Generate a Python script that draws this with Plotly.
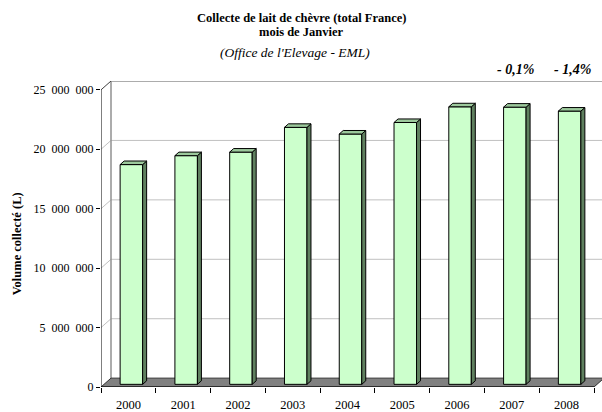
import plotly.graph_objects as go

# Collecte de lait de chèvre, mois de janvier (litres)
years = ["2000", "2001", "2002", "2003", "2004", "2005", "2006", "2007", "2008"]
volumes = [18_490_000, 19_240_000, 19_540_000, 21_620_000, 21_060_000,
           22_030_000, 23_350_000, 23_320_000, 22_990_000]
y_tick_vals = [0, 5_000_000, 10_000_000, 15_000_000, 20_000_000, 25_000_000]
FS = "\u2007"
y_tick_text = ["0", f"5{FS}000{FS}000", f"10{FS}000{FS}000", f"15{FS}000{FS}000",
               f"20{FS}000{FS}000", f"25{FS}000{FS}000"]

title_lines = ["Collecte de lait de chèvre (total France)", "mois de Janvier"]
subtitle = "(Office de l'Elevage - EML)"
y_title = "Volume collecté (L)"

# ---- figure geometry (pixels) ----
W, H = 602, 412
ML, MR, MT, MB = 101, 0, 81, 20
PW, PH = W - ML - MR, H - MT - MB
CAT_PX = 493 / len(years)              # front floor width per category
Y_PX = 302 / 25_000_000                 # pixels per litre on the front plane
X_MIN = -0.5
X_MAX = X_MIN + PW / CAT_PX
Y_MAX = PH / Y_PX
DX = 10 / CAT_PX                        # depth offset, x units
DY = 9 / Y_PX                           # depth offset, y units
D0, D1 = 0.3, 0.7                       # bar depth span (fraction of floor depth)
BAR_W = 22.5 / CAT_PX

FONT = "Liberation Serif, Times New Roman, serif"


def px_x(px):
    return (px - ML) / PW


def px_y(py):
    return (H - MB - py) / PH


fig = go.Figure()

# front faces
bar_x = [i + D0 * DX for i in range(len(years))]
fig.add_trace(go.Bar(
    x=bar_x, y=volumes, base=D0 * DY, width=BAR_W,
    marker=dict(color="#ccffcc", line=dict(color="black", width=1)),
    hoverinfo="skip", showlegend=False,
))

# side and top faces
w = (D1 - D0) * DX
h = (D1 - D0) * DY
side_x, side_y, top_x, top_y = [], [], [], []
for xc, v in zip(bar_x, volumes):
    xl, xr = xc - BAR_W / 2, xc + BAR_W / 2
    b, t = D0 * DY, D0 * DY + v
    side_x += [xr, xr, xr + w, xr + w, xr, None]
    side_y += [b, t, t + h, b + h, b, None]
    top_x += [xl, xr, xr + w, xl + w, xl, None]
    top_y += [t, t, t + h, t + h, t, None]
fig.add_trace(go.Scatter(x=side_x, y=side_y, mode="lines", fill="toself",
                         fillcolor="#5f805f", line=dict(color="black", width=1),
                         hoverinfo="skip", showlegend=False))
fig.add_trace(go.Scatter(x=top_x, y=top_y, mode="lines", fill="toself",
                         fillcolor="#9cc99c", line=dict(color="black", width=1),
                         hoverinfo="skip", showlegend=False))

# walls, gridlines and floor
n = len(years)
x_back = X_MIN + DX
shapes = []
for v in y_tick_vals[1:-1]:
    shapes.append(dict(type="line", xref="x", yref="y", x0=x_back, x1=X_MAX,
                       y0=v + DY, y1=v + DY, line=dict(color="#c0c0c0", width=1),
                       layer="below"))
for v in y_tick_vals[1:-1]:
    shapes.append(dict(type="line", xref="x", yref="y", x0=X_MIN, x1=x_back,
                       y0=v, y1=v + DY, line=dict(color="#c0c0c0", width=1),
                       layer="below"))
top = y_tick_vals[-1]
shapes += [
    dict(type="line", xref="x", yref="y", x0=x_back, x1=X_MAX, y0=top + DY, y1=top + DY,
         line=dict(color="#909090", width=1.5), layer="below"),
    dict(type="line", xref="x", yref="y", x0=x_back, x1=x_back, y0=DY, y1=top + DY,
         line=dict(color="#909090", width=1.5), layer="below"),
    dict(type="line", xref="x", yref="y", x0=X_MIN, x1=x_back, y0=top, y1=top + DY,
         line=dict(color="#404040", width=1), layer="below"),
    dict(type="path", xref="x", yref="y",
         path=f"M{X_MIN},0 L{n - 0.5},0 L{n - 0.5 + DX},{DY} L{x_back},{DY} Z",
         fillcolor="#808080", line=dict(color="#303030", width=1), layer="below"),
    # front axis lines
    dict(type="line", xref="x", yref="y", x0=X_MIN, x1=X_MIN, y0=0, y1=top,
         line=dict(color="black", width=1)),
    dict(type="line", xref="x", yref="y", x0=X_MIN, x1=n - 0.5, y0=0, y1=0,
         line=dict(color="black", width=1)),
]

# year-over-year change above the last two bars
pct = []
for k in (n - 2, n - 1):
    ch = (volumes[k] - volumes[k - 1]) / volumes[k - 1] * 100
    s = f"{ch:.1f}".replace(".", ",")
    pct.append(("- " + s.lstrip("-") if ch < 0 else "+ " + s) + "%")

annotations = [
    dict(text=f"<b>{title_lines[0]}</b>", x=px_x(301), y=px_y(17), font=dict(size=12.5)),
    dict(text=f"<b>{title_lines[1]}</b>", x=px_x(301), y=px_y(31), font=dict(size=12.5)),
    dict(text=f"<i>{subtitle}</i>", x=px_x(295), y=px_y(52), font=dict(size=13.5)),
    dict(text=f"<b><i>{pct[0]}</i></b>", x=px_x(515), y=px_y(69), font=dict(size=14)),
    dict(text=f"<b><i>{pct[1]}</i></b>", x=px_x(572), y=px_y(69), font=dict(size=14)),
    dict(text=f"<b>{y_title}</b>", x=px_x(17), y=px_y(247), textangle=-90,
         font=dict(size=12.5)),
]
for a in annotations:
    a.update(xref="paper", yref="paper", showarrow=False, xanchor="center", yanchor="middle")
    a["font"].update(family=FONT, color="black")

fig.update_layout(
    width=W, height=H,
    margin=dict(l=ML, r=MR, t=MT, b=MB, pad=0),
    paper_bgcolor="white", plot_bgcolor="white",
    font=dict(family=FONT, color="black", size=12),
    showlegend=False,
    shapes=shapes,
    annotations=annotations,
    xaxis=dict(range=[X_MIN, X_MAX], tickmode="array", tickvals=list(range(n)),
               ticktext=years, ticks="outside", ticklen=6, tickcolor="rgba(0,0,0,0)",
               showgrid=False, zeroline=False, showline=False,
               tickfont=dict(family=FONT, size=12.5, color="black"),
               minor=dict(tickmode="array", tickvals=[i - 0.5 for i in range(n + 1)],
                          ticks="outside", ticklen=5, tickcolor="black", showgrid=False),
               fixedrange=True),
    yaxis=dict(range=[0, Y_MAX], tickmode="array", tickvals=y_tick_vals,
               ticktext=y_tick_text, ticks="outside", ticklen=4, tickcolor="black",
               showgrid=False, zeroline=False, showline=False,
               tickfont=dict(family=FONT, size=12, color="black"), fixedrange=True),
)

fig.write_html("out.html")
